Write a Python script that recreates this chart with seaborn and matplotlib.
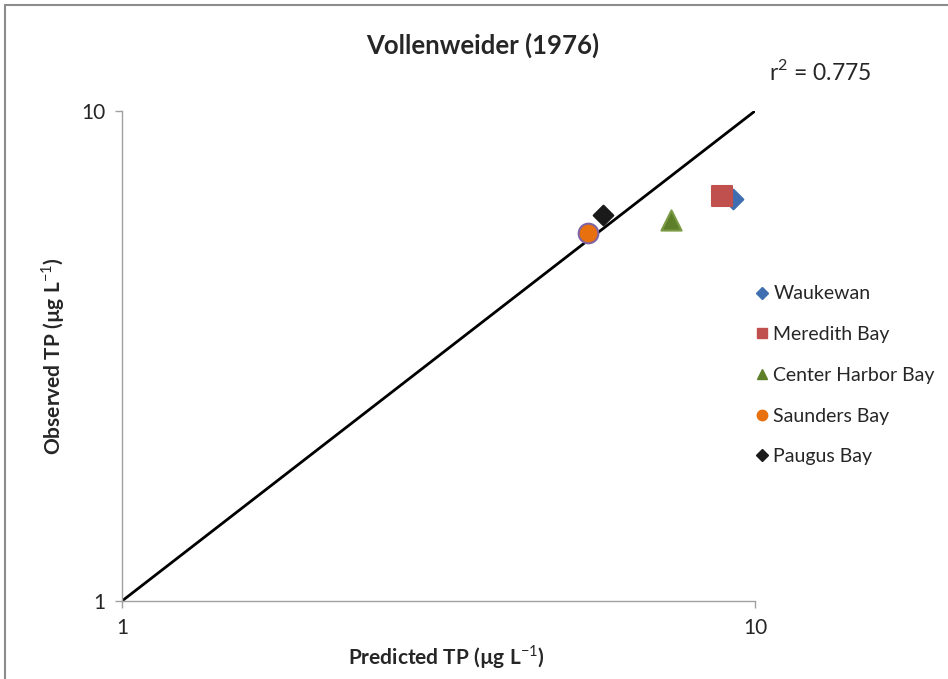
import matplotlib
matplotlib.use("Agg")
import matplotlib.pyplot as plt
from matplotlib.lines import Line2D
import seaborn as sns
import pandas as pd

# Bay-level total phosphorus: model prediction vs. observation
sites = ["Waukewan", "Meredith Bay", "Center Harbor Bay", "Saunders Bay", "Paugus Bay"]
predicted_tp = [9.23, 8.87, 7.37, 5.45, 5.75]
observed_tp = [6.61, 6.72, 5.98, 5.64, 6.13]
site_colors = ["#3F6FB0", "#C0504D", "#5E7F2A", "#E8700F", "#1A1A1A"]
site_markers = ["D", "s", "^", "o", "D"]
marker_sizes = [100, 225, 210, 200, 100]
edge_colors = ["#3F6FB0", "#C0504D", "#7A9A45", "#8064A2", "#1A1A1A"]

one_to_one = [1, 10]
tick_vals = [1, 10]
tick_labels = ["1", "10"]

df = pd.DataFrame({"site": sites, "predicted": predicted_tp, "observed": observed_tp})

sns.set_theme(style="white")
plt.rcParams["font.family"] = ["Lato", "DejaVu Sans"]
plt.rcParams["mathtext.fontset"] = "custom"
plt.rcParams["mathtext.rm"] = "Lato"
plt.rcParams["mathtext.bf"] = "Lato:bold"

fig = plt.figure(figsize=(9.48, 6.79), dpi=100)
ax = fig.add_axes([0.1287, 0.1149, 0.6677, 0.7216])

# 1:1 reference line
ax.plot(one_to_one, one_to_one, color="black", lw=2, zorder=2)

handles = []
for i, site in enumerate(sites):
    sub = df[df["site"] == site]
    sns.scatterplot(data=sub, x="predicted", y="observed", ax=ax,
                    marker=site_markers[i], s=marker_sizes[i],
                    color=site_colors[i], edgecolor=edge_colors[i],
                    linewidth=1.5, zorder=3, legend=False)
    handles.append(Line2D([], [], ls="none", marker=site_markers[i],
                          color=site_colors[i], markeredgecolor=site_colors[i],
                          markersize=6 if site_markers[i] == "D" else 7.5,
                          label=site))

ax.set_xscale("log")
ax.set_yscale("log")
ax.set_xlim(1, 10)
ax.set_ylim(1, 10)
ax.set_xticks(tick_vals)
ax.set_xticklabels(tick_labels)
ax.set_yticks(tick_vals)
ax.set_yticklabels(tick_labels)
ax.minorticks_off()
ax.tick_params(axis="both", which="major", length=5, width=1, color="#A0A0A0",
               labelsize=15, pad=7, direction="out", bottom=True, left=True)

for side in ["top", "right"]:
    ax.spines[side].set_visible(False)
for side in ["left", "bottom"]:
    ax.spines[side].set_color("#A0A0A0")
    ax.spines[side].set_linewidth(1)

ax.set_xlabel("Predicted TP (µg L$^{-1}$)", fontsize=15, fontweight="bold", labelpad=4)
ax.xaxis.set_label_coords(0.512, -0.085)
ax.set_ylabel("Observed TP (µg L$^{-1}$)", fontsize=15, fontweight="bold", labelpad=10)

fig.text(0.509, 0.933, "Vollenweider (1976)", ha="center", va="center",
         fontsize=18.5, fontweight="bold")
fig.text(0.811, 0.894, "r$^2$ = 0.775", ha="left", va="center", fontsize=16.5)

leg = fig.legend(handles=handles, loc="upper left", bbox_to_anchor=(0.788, 0.594),
                 frameon=False, fontsize=14, handlelength=0.5, handletextpad=0.35,
                 labelspacing=1.22, borderpad=0)

# chart-area frame
fig.add_artist(Line2D([0.0055, 0.0055], [0, 0.9926], color="#8C8C8C", lw=1.5,
                      transform=fig.transFigure))
fig.add_artist(Line2D([0.0055, 1.0], [0.9926, 0.9926], color="#8C8C8C", lw=1.5,
                      transform=fig.transFigure))

fig.savefig("out.png", dpi=100)
